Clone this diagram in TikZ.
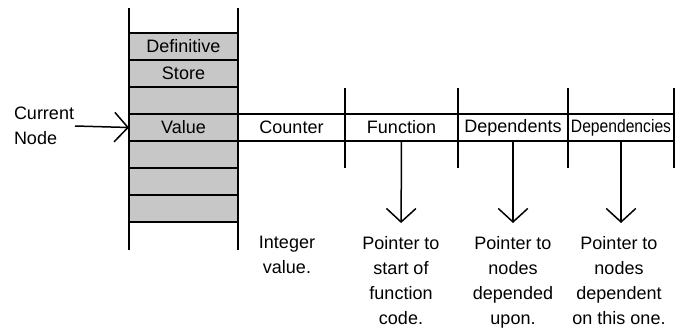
\documentclass[tikz,border=0pt]{standalone}
\usepackage{fontspec}
\setmainfont{Liberation Sans}
\usetikzlibrary{arrows.meta}
\begin{document}
\begin{tikzpicture}[x=1pt,y=-1pt,
  line width=1.5pt,
  every node/.style={font=\fontsize{18}{25}\selectfont, inner sep=0pt, outer sep=0pt},
  storerow/.style={minimum width=109pt, minimum height=27pt, fill=black!22, draw},
  fieldcell/.style={minimum height=27pt},
  note/.style={align=center, anchor=north},
  barb/.style={-{Straight Barb[angle=95:20pt,line width=1.5pt]}}]
\useasboundingbox (0,0) rectangle (685,335);

% definitive store column
\foreach \i/\t in {1/Definitive,2/Store,3/{},4/Value,5/{},6/{},7/{}}
  \node[storerow] (r\i) at (183.5,{33+27*(\i-1)+13.5}) {\t};
\coordinate (coltl) at (129,8);
\coordinate (colbl) at (129,250);
\coordinate (coltr) at (238,8);
\coordinate (colbr) at (238,250);
\draw (coltl) -- (colbl);
\draw (coltr) -- (colbr);

% record fields attached to the current node
\node[fieldcell, minimum width=107pt] (counter) at (291.5,127.5) {Counter};
\node[fieldcell, minimum width=113pt] (function) at (401.5,127.5) {Function};
\node[fieldcell, minimum width=110pt] (dependents) at (513,127.5) {Dependents};
\node[fieldcell, minimum width=106pt] (dependencies) at (621,127.5)
  {\scalebox{0.87}[1]{Dependencies}};
\draw (counter.north west) -- (dependencies.north east);
\draw (counter.south west) -- (dependencies.south east);
\foreach \x in {345,458,568,674}
  \draw (\x,88) -- (\x,168);

% current node pointer
\node[align=left, anchor=west] (cur) at (14,126) {Current\\Node};
\coordinate (cn) at (75,126);
\draw[barb] (cn) -- (r4.west);

% descriptions of the fields
\node[note] (intv) at (287,236) {Integer\\value.};
\node[note] (fptr) at (401,236) {Pointer to\\start of\\function\\code.};
\node[note] (dptr) at (513,236) {Pointer to\\nodes\\depended\\upon.};
\node[note] (eptr) at (619,236) {Pointer to\\nodes\\dependent\\on this one.};
\draw[barb, shorten >=13pt] (function.south) -- (fptr.north);
\draw[barb, shorten >=13pt] (dependents.south) -- (dptr.north);
\draw[barb, shorten >=13pt] (dependencies.south) -- (dependencies.south |- eptr.north);
\end{tikzpicture}
\end{document}
